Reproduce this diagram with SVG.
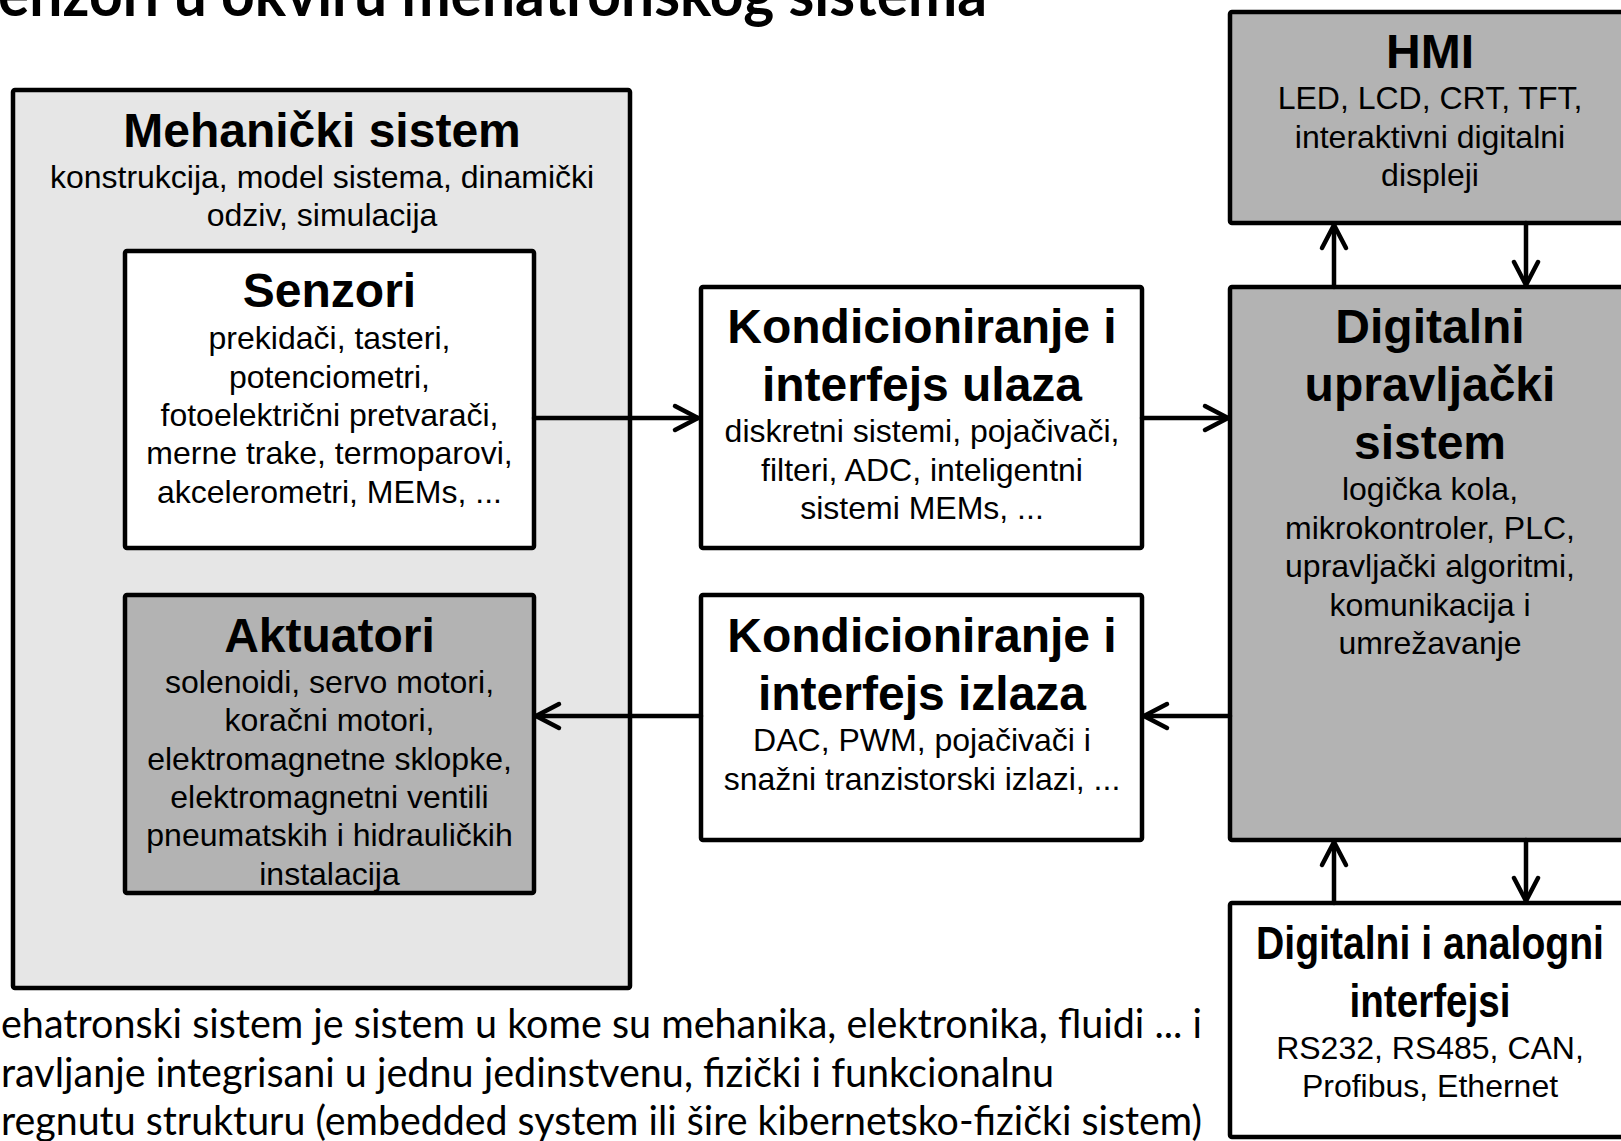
<svg xmlns="http://www.w3.org/2000/svg" width="1621" height="1141" viewBox="0 0 1621 1141">
<style>
.box{stroke:#000;stroke-width:4.5;stroke-linejoin:round}
.light{fill:#e6e6e6}
.white{fill:#fff}
.dark{fill:#b3b3b3}
.t{font-family:"Liberation Sans",Arial,sans-serif;fill:#000;text-anchor:middle}
.h{font-size:48px;font-weight:bold}
.r{font-size:32px}
.n{font-size:46px;font-weight:bold}
.cal{font-family:Lato,"Open Sans",sans-serif;fill:#000}
.conn{stroke:#000;stroke-width:4.5;fill:none;stroke-linecap:round}
</style>
<defs>
<marker id="arr" viewBox="-28 -16 32 32" refX="0" refY="0" markerWidth="32" markerHeight="32" markerUnits="userSpaceOnUse" orient="auto">
<path d="M-23,-12 L0,0 L-23,12" fill="none" stroke="#000" stroke-width="4.5" stroke-linecap="round" stroke-linejoin="round"/>
</marker>
</defs>
<rect width="1621" height="1141" fill="#fff"/>
<text class="cal" x="-2" y="16" font-size="62" font-weight="bold" textLength="989" lengthAdjust="spacingAndGlyphs">enzori u okviru mehatronskog sistema</text>

<g id="mehanicki">
<rect class="box light" x="13" y="90" width="617" height="898" rx="2"/>
<text class="t h" x="322" y="147">Mehanički sistem</text>
<text class="t r" x="322" y="188">konstrukcija, model sistema, dinamički</text>
<text class="t r" x="322" y="226">odziv, simulacija</text>
</g>

<g id="senzori">
<rect class="box white" x="125" y="251" width="409" height="297" rx="2"/>
<text class="t h" x="329.5" y="307">Senzori</text>
<text class="t r" x="329.5" y="349">prekidači, tasteri,</text>
<text class="t r" x="329.5" y="388">potenciometri,</text>
<text class="t r" x="329.5" y="426">fotoelektrični pretvarači,</text>
<text class="t r" x="329.5" y="464">merne trake, termoparovi,</text>
<text class="t r" x="329.5" y="503">akcelerometri, MEMs, ...</text>
</g>

<g id="aktuatori">
<rect class="box dark" x="125" y="595" width="409" height="298" rx="2"/>
<text class="t h" x="329.5" y="652">Aktuatori</text>
<text class="t r" x="329.5" y="693">solenoidi, servo motori,</text>
<text class="t r" x="329.5" y="731">koračni motori,</text>
<text class="t r" x="329.5" y="770">elektromagnetne sklopke,</text>
<text class="t r" x="329.5" y="808">elektromagnetni ventili</text>
<text class="t r" x="329.5" y="846">pneumatskih i hidrauličkih</text>
<text class="t r" x="329.5" y="885">instalacija</text>
</g>

<g id="ulaz">
<rect class="box white" x="701" y="287" width="441" height="261" rx="2"/>
<text class="t h" x="922" y="343">Kondicioniranje i</text>
<text class="t h" x="922" y="401">interfejs ulaza</text>
<text class="t r" x="922" y="442">diskretni sistemi, pojačivači,</text>
<text class="t r" x="922" y="481">filteri, ADC, inteligentni</text>
<text class="t r" x="922" y="519">sistemi MEMs, ...</text>
</g>

<g id="izlaz">
<rect class="box white" x="701" y="595" width="441" height="245" rx="2"/>
<text class="t h" x="922" y="652">Kondicioniranje i</text>
<text class="t h" x="922" y="710">interfejs izlaza</text>
<text class="t r" x="922" y="751">DAC, PWM, pojačivači i</text>
<text class="t r" x="922" y="790">snažni tranzistorski izlazi, ...</text>
</g>

<g id="hmi">
<rect class="box dark" x="1230" y="12" width="400" height="211" rx="2"/>
<text class="t h" x="1430" y="68">HMI</text>
<text class="t r" x="1430" y="109">LED, LCD, CRT, TFT,</text>
<text class="t r" x="1430" y="148">interaktivni digitalni</text>
<text class="t r" x="1430" y="186">displeji</text>
</g>

<g id="digitalni">
<rect class="box dark" x="1230" y="287" width="400" height="553" rx="2"/>
<text class="t h" x="1430" y="343">Digitalni</text>
<text class="t h" x="1430" y="401">upravljački</text>
<text class="t h" x="1430" y="459">sistem</text>
<text class="t r" x="1430" y="500">logička kola,</text>
<text class="t r" x="1430" y="539">mikrokontroler, PLC,</text>
<text class="t r" x="1430" y="577">upravljački algoritmi,</text>
<text class="t r" x="1430" y="616">komunikacija i</text>
<text class="t r" x="1430" y="654">umrežavanje</text>
</g>

<g id="interfejsi">
<rect class="box white" x="1230" y="903" width="400" height="234" rx="2"/>
<text class="t n" x="1430" y="959" textLength="348" lengthAdjust="spacingAndGlyphs">Digitalni i analogni</text>
<text class="t n" x="1430" y="1017" textLength="161" lengthAdjust="spacingAndGlyphs">interfejsi</text>
<text class="t r" x="1430" y="1059">RS232, RS485, CAN,</text>
<text class="t r" x="1430" y="1097">Profibus, Ethernet</text>
</g>

<g id="connectors">
<path class="conn" d="M534,418 H698" marker-end="url(#arr)"/>
<path class="conn" d="M1142,418 H1228" marker-end="url(#arr)"/>
<path class="conn" d="M1230,716 H1144" marker-end="url(#arr)"/>
<path class="conn" d="M701,716 H536" marker-end="url(#arr)"/>
<path class="conn" d="M1334,287 V225" marker-end="url(#arr)"/>
<path class="conn" d="M1526,223 V285" marker-end="url(#arr)"/>
<path class="conn" d="M1334,903 V842" marker-end="url(#arr)"/>
<path class="conn" d="M1526,840 V901" marker-end="url(#arr)"/>
</g>

<g id="opis">
<text class="cal" x="1" y="1038" font-size="40" textLength="1201" lengthAdjust="spacingAndGlyphs">ehatronski sistem je sistem u kome su mehanika, elektronika, fluidi ... i</text>
<text class="cal" x="1" y="1087" font-size="40" textLength="1053" lengthAdjust="spacingAndGlyphs">ravljanje integrisani u jednu jedinstvenu, fizički i funkcionalnu</text>
<text class="cal" x="1" y="1135" font-size="40" textLength="1201" lengthAdjust="spacingAndGlyphs">regnutu strukturu (embedded system ili šire kibernetsko-fizički sistem)</text>
</g>
</svg>
